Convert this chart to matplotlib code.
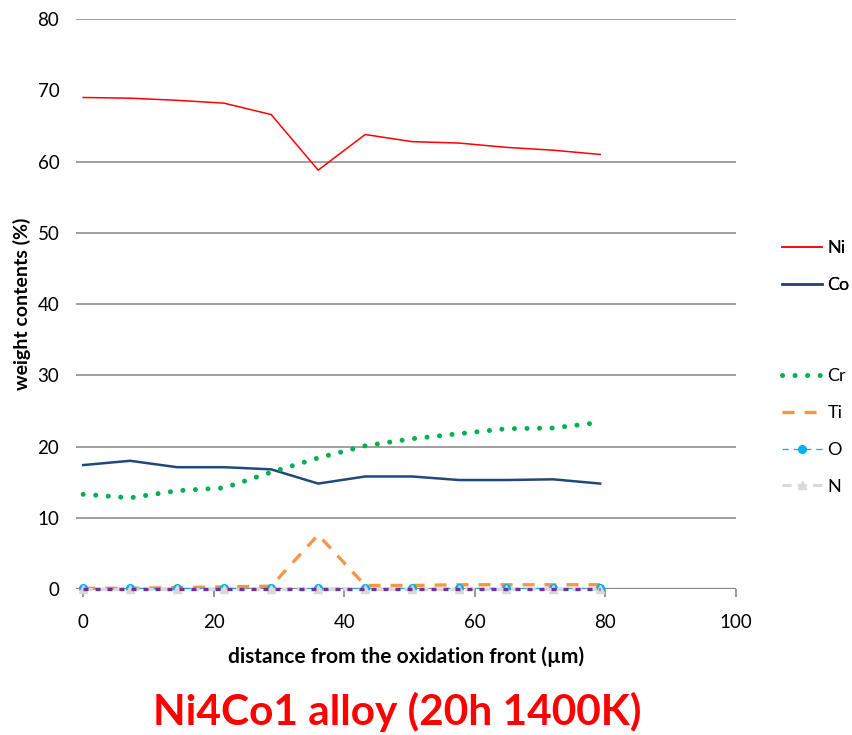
import matplotlib
matplotlib.use('Agg')
import matplotlib.pyplot as plt

plt.rcParams['font.family'] = ['Lato', 'DejaVu Sans']

# distance from the oxidation front (um)
distance = [0, 7.2, 14.4, 21.6, 28.8, 36.0, 43.2, 50.4, 57.6, 64.8, 72.0, 79.2]

# weight contents (%)
ni = [69.0, 68.9, 68.6, 68.2, 66.6, 58.8, 63.8, 62.8, 62.6, 62.0, 61.6, 61.0]
co = [17.4, 18.0, 17.1, 17.1, 16.8, 14.8, 15.8, 15.8, 15.3, 15.3, 15.4, 14.8]
cr = [13.3, 12.8, 13.8, 14.2, 16.4, 18.4, 20.1, 21.1, 21.8, 22.5, 22.6, 23.4]
ti = [0.1, 0.1, 0.2, 0.3, 0.4, 7.6, 0.5, 0.5, 0.6, 0.6, 0.6, 0.6]
o = [0.2, 0.2, 0.2, 0.2, 0.2, 0.2, 0.2, 0.2, 0.2, 0.2, 0.2, 0.2]
n = [0.0, 0.0, 0.0, 0.0, 0.0, 0.0, 0.0, 0.0, 0.0, 0.0, 0.0, 0.0]
other = [0.0, 0.0, 0.0, 0.0, 0.0, 0.0, 0.0, 0.0, 0.0, 0.0, 0.0, 0.0]

y_grid = [10, 20, 30, 40, 50, 60, 80]
y_ticks = [0, 10, 20, 30, 40, 50, 60, 70, 80]
x_ticks = [0, 20, 40, 60, 80, 100]

fig = plt.figure(figsize=(8.52, 7.35), dpi=100)
ax = fig.add_axes([0.0892, 0.1986, 0.7746, 0.7754])

for g in y_grid:
    ax.axhline(g, color='#868686', lw=1.1, zorder=1)
ax.axhline(0, color='#868686', lw=1.6, zorder=1)

l_ni, = ax.plot(distance, ni, color='#FF0000', lw=1.1, zorder=3)
l_co, = ax.plot(distance, co, color='#1F497D', lw=1.8, zorder=3)
l_cr, = ax.plot(distance, cr, color='#00B050', lw=3.6, linestyle=(0, (0.01, 2.5)),
                dash_capstyle='round', zorder=3)
l_ti, = ax.plot(distance, ti, color='#F79646', lw=2.4, linestyle=(0, (3.6, 3.0)),
                zorder=3, clip_on=False)
l_o, = ax.plot(distance, o, color='#00B0F0', lw=0.9, linestyle=(0, (5, 4)),
               marker='o', ms=5.5, zorder=4, clip_on=False)
l_n, = ax.plot(distance, n, color='#D9D9D9', lw=2.2, linestyle=(0, (3, 2)),
               marker='^', ms=6, zorder=5, clip_on=False)
ax.plot(distance, other, color='#7030A0', lw=2.4, linestyle=(0, (1.5, 2.1)),
        zorder=6, clip_on=False)

ax.set_xlim(-1.1, 100)
ax.set_ylim(0, 80)
ax.set_xticks(x_ticks)
ax.set_yticks(y_ticks)
for s in ax.spines.values():
    s.set_visible(False)
ax.tick_params(axis='x', direction='out', length=6, width=1.2, color='#868686',
               labelsize=13.5, pad=12)
ax.tick_params(axis='y', length=0, labelsize=13.5, pad=12)

ax.set_xlabel('distance from the oxidation front (µm)', fontsize=15,
              fontweight='bold', labelpad=11)
ax.set_ylabel('weight contents (%)', fontsize=14, fontweight='bold', labelpad=5)

leg_kw = dict(loc='upper left', frameon=False, fontsize=13, handlelength=2.2,
              labelspacing=1.15, handletextpad=0.3)
leg1 = fig.legend([l_ni, l_co], ['Ni', 'Co'], bbox_to_anchor=(0.899, 0.695), **leg_kw)
fig.add_artist(leg1)
fig.legend([l_cr, l_ti, l_o, l_n], ['Cr', 'Ti', 'O', 'N'],
           bbox_to_anchor=(0.899, 0.521), **leg_kw)

fig.text(0.466, 0.0136, 'Ni4Co1 alloy (20h 1400K)', color='#FF0000', fontsize=30.5,
         fontweight='bold', ha='center', va='baseline')

fig.savefig('out.png', dpi=100)
